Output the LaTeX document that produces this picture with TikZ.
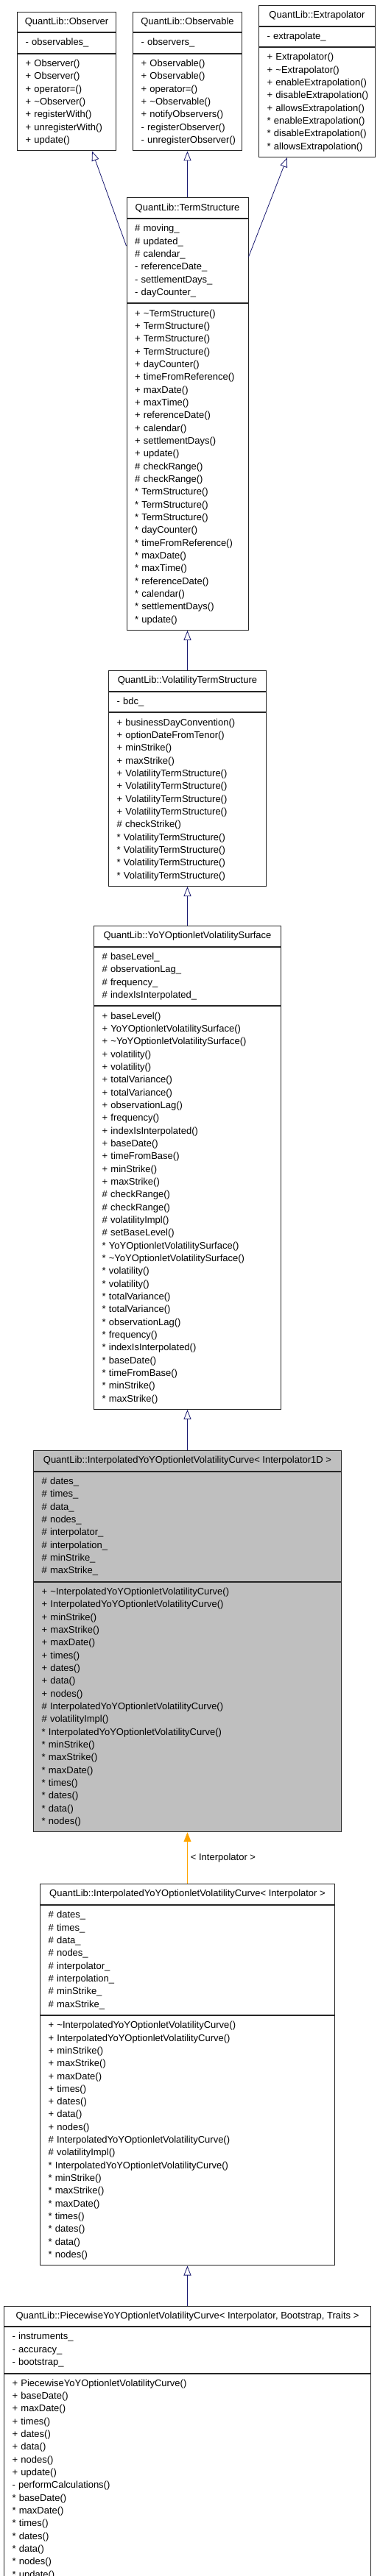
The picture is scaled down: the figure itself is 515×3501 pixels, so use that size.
\documentclass[tikz,border=0pt]{standalone}
\usepackage{fontspec}
\setmainfont{Liberation Sans}
\usepackage{tikz}
\usetikzlibrary{arrows.meta,positioning,calc}
\definecolor{edgeblue}{RGB}{25,25,112}
\definecolor{edgeorange}{RGB}{255,165,0}
\definecolor{classgray}{RGB}{191,191,191}
\newcommand{\mlist}[1]{\begin{tabular}{@{}l@{}}#1\end{tabular}}
\tikzset{
  hd/.style={draw=black!85, line width=1pt, fill=white, minimum height=27.67pt, inner sep=0pt,
    font=\fontsize{13}{17.33}\selectfont},
  sec/.style={hd, minimum height=#1*17.33pt+10.34pt, inner xsep=11pt, inner ysep=0pt, align=left},
  inh/.style={-{Triangle[open, length=13pt, width=10pt]}, draw=edgeblue, line width=0.8pt},
  tmpl/.style={-{Triangle[length=13pt, width=10pt]}, draw=edgeorange, line width=0.8pt},
  lbl/.style={font=\fontsize{13}{17.33}\selectfont, inner sep=4pt},
}

\begin{document}
\begin{tikzpicture}
\useasboundingbox (0,0) rectangle (515pt,-3501pt);
\node[hd, minimum width=148pt, anchor=north] (obsv) at (254.5pt,-15.5pt) {QuantLib::Observable};
\node[sec=1, text width=126pt, below=0pt of obsv] (obsva) {\mlist{- observers\_}};
\node[sec=7, text width=126pt, below=0pt of obsva] (obsvm) {\mlist{+ Observable()\\ + Observable()\\ + operator=()\\ + \textasciitilde Observable()\\ + notifyObservers()\\ - registerObserver()\\ - unregisterObserver()}};
\node[hd, minimum width=134pt, left=22pt of obsv] (obs) {QuantLib::Observer};
\node[sec=1, text width=112pt, below=0pt of obs] (obsa) {\mlist{- observables\_}};
\node[sec=7, text width=112pt, below=0pt of obsa] (obsm) {\mlist{+ Observer()\\ + Observer()\\ + operator=()\\ + \textasciitilde Observer()\\ + registerWith()\\ + unregisterWith()\\ + update()}};
\node[hd, minimum width=158pt, right=22pt of obsv, yshift=8.67pt] (extr) {QuantLib::Extrapolator};
\node[sec=1, text width=136pt, below=0pt of extr] (extra) {\mlist{- extrapolate\_}};
\node[sec=8, text width=136pt, below=0pt of extra] (extrm) {\mlist{+ Extrapolator()\\ + \textasciitilde Extrapolator()\\ + enableExtrapolation()\\ + disableExtrapolation()\\ + allowsExtrapolation()\\{}* enableExtrapolation()\\{}* disableExtrapolation()\\{}* allowsExtrapolation()}};
\node[hd, minimum width=165pt, below=63pt of obsvm] (ts) {QuantLib::TermStructure};
\node[sec=6, text width=143pt, below=0pt of ts] (tsa) {\mlist{\# moving\_\\ \# updated\_\\ \# calendar\_\\ - referenceDate\_\\ - settlementDays\_\\ - dayCounter\_}};
\node[sec=25, text width=143pt, below=0pt of tsa] (tsm) {\mlist{+ \textasciitilde TermStructure()\\ + TermStructure()\\ + TermStructure()\\ + TermStructure()\\ + dayCounter()\\ + timeFromReference()\\ + maxDate()\\ + maxTime()\\ + referenceDate()\\ + calendar()\\ + settlementDays()\\ + update()\\ \# checkRange()\\ \# checkRange()\\{}* TermStructure()\\{}* TermStructure()\\{}* TermStructure()\\{}* dayCounter()\\{}* timeFromReference()\\{}* maxDate()\\{}* maxTime()\\{}* referenceDate()\\{}* calendar()\\{}* settlementDays()\\{}* update()}};
\node[hd, minimum width=214pt, below=54pt of tsm] (vts) {QuantLib::VolatilityTermStructure};
\node[sec=1, text width=192pt, below=0pt of vts] (vtsa) {\mlist{- bdc\_}};
\node[sec=13, text width=192pt, below=0pt of vtsa] (vtsm) {\mlist{+ businessDayConvention()\\ + optionDateFromTenor()\\ + minStrike()\\ + maxStrike()\\ + VolatilityTermStructure()\\ + VolatilityTermStructure()\\ + VolatilityTermStructure()\\ + VolatilityTermStructure()\\ \# checkStrike()\\{}* VolatilityTermStructure()\\{}* VolatilityTermStructure()\\{}* VolatilityTermStructure()\\{}* VolatilityTermStructure()}};
\node[hd, minimum width=254pt, below=53pt of vtsm] (yoy) {QuantLib::YoYOptionletVolatilitySurface};
\node[sec=4, text width=232pt, below=0pt of yoy] (yoya) {\mlist{\# baseLevel\_\\ \# observationLag\_\\ \# frequency\_\\ \# indexIsInterpolated\_}};
\node[sec=31, text width=232pt, below=0pt of yoya] (yoym) {\mlist{+ baseLevel()\\ + YoYOptionletVolatilitySurface()\\ + \textasciitilde YoYOptionletVolatilitySurface()\\ + volatility()\\ + volatility()\\ + totalVariance()\\ + totalVariance()\\ + observationLag()\\ + frequency()\\ + indexIsInterpolated()\\ + baseDate()\\ + timeFromBase()\\ + minStrike()\\ + maxStrike()\\ \# checkRange()\\ \# checkRange()\\ \# volatilityImpl()\\ \# setBaseLevel()\\{}* YoYOptionletVolatilitySurface()\\{}* \textasciitilde YoYOptionletVolatilitySurface()\\{}* volatility()\\{}* volatility()\\{}* totalVariance()\\{}* totalVariance()\\{}* observationLag()\\{}* frequency()\\{}* indexIsInterpolated()\\{}* baseDate()\\{}* timeFromBase()\\{}* minStrike()\\{}* maxStrike()}};
\node[hd, fill=classgray, minimum width=418pt, below=55pt of yoym] (ione) {QuantLib::InterpolatedYoYOptionletVolatilityCurve< Interpolator1D >};
\node[sec=8, fill=classgray, text width=396pt, below=0pt of ione] (ionea) {\mlist{\# dates\_\\ \# times\_\\ \# data\_\\ \# nodes\_\\ \# interpolator\_\\ \# interpolation\_\\ \# minStrike\_\\ \# maxStrike\_}};
\node[sec=19, fill=classgray, text width=396pt, below=0pt of ionea] (ionem) {\mlist{+ \textasciitilde InterpolatedYoYOptionletVolatilityCurve()\\ + InterpolatedYoYOptionletVolatilityCurve()\\ + minStrike()\\ + maxStrike()\\ + maxDate()\\ + times()\\ + dates()\\ + data()\\ + nodes()\\ \# InterpolatedYoYOptionletVolatilityCurve()\\ \# volatilityImpl()\\{}* InterpolatedYoYOptionletVolatilityCurve()\\{}* minStrike()\\{}* maxStrike()\\{}* maxDate()\\{}* times()\\{}* dates()\\{}* data()\\{}* nodes()}};
\node[hd, minimum width=400pt, below=70pt of ionem] (ipl) {QuantLib::InterpolatedYoYOptionletVolatilityCurve< Interpolator >};
\node[sec=8, text width=378pt, below=0pt of ipl] (ipla) {\mlist{\# dates\_\\ \# times\_\\ \# data\_\\ \# nodes\_\\ \# interpolator\_\\ \# interpolation\_\\ \# minStrike\_\\ \# maxStrike\_}};
\node[sec=19, text width=378pt, below=0pt of ipla] (iplm) {\mlist{+ \textasciitilde InterpolatedYoYOptionletVolatilityCurve()\\ + InterpolatedYoYOptionletVolatilityCurve()\\ + minStrike()\\ + maxStrike()\\ + maxDate()\\ + times()\\ + dates()\\ + data()\\ + nodes()\\ \# InterpolatedYoYOptionletVolatilityCurve()\\ \# volatilityImpl()\\{}* InterpolatedYoYOptionletVolatilityCurve()\\{}* minStrike()\\{}* maxStrike()\\{}* maxDate()\\{}* times()\\{}* dates()\\{}* data()\\{}* nodes()}};
\node[hd, minimum width=498pt, below=54pt of iplm] (pw) {QuantLib::PiecewiseYoYOptionletVolatilityCurve< Interpolator, Bootstrap, Traits >};
\node[sec=3, text width=476pt, below=0pt of pw] (pwa) {\mlist{- instruments\_\\ - accuracy\_\\ - bootstrap\_}};
\node[sec=16, text width=476pt, below=0pt of pwa] (pwm) {\mlist{+ PiecewiseYoYOptionletVolatilityCurve()\\ + baseDate()\\ + maxDate()\\ + times()\\ + dates()\\ + data()\\ + nodes()\\ + update()\\ - performCalculations()\\{}* baseDate()\\{}* maxDate()\\{}* times()\\{}* dates()\\{}* data()\\{}* nodes()\\{}* update()}};
\draw[inh] ($(tsa.north west)+(0,-37pt)$) -- ($(obsm.south west)!0.756!(obsm.south east)$);
\draw[inh] (ts.north) -- (obsvm.south);
\draw[inh] ($(tsa.north east)+(0,-52pt)$) -- ($(extrm.south west)!0.245!(extrm.south east)$);
\draw[inh] (vts.north) -- (tsm.south);
\draw[inh] (yoy.north) -- (vtsm.south);
\draw[inh] (ione.north) -- (yoym.south);
\draw[tmpl] (ipl.north) -- node[lbl, right] {< Interpolator >} (ionem.south);
\draw[inh] (pw.north) -- (iplm.south);
\end{tikzpicture}
\end{document}
